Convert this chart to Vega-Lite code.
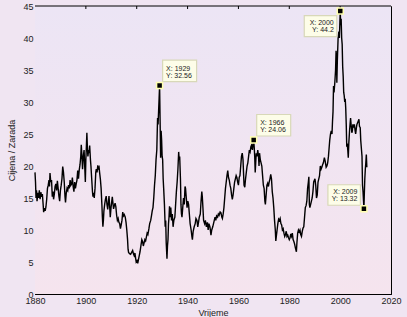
{
  "$schema": "https://vega.github.io/schema/vega-lite/v6.json",
  "width": 356,
  "height": 288,
  "autosize": "none",
  "padding": {"left": 35, "top": 6, "right": 16, "bottom": 23},
  "background": "#f0e5f2",
  "config": {
    "view": {"stroke": null},
    "font": "Liberation Sans",
    "axis": {
      "zindex": 1,
      "domainColor": "#000000",
      "domainWidth": 1,
      "tickColor": "#000000",
      "tickWidth": 1,
      "tickSize": -3,
      "grid": false,
      "labelFlush": false,
      "labelOverlap": false,
      "labelFont": "Liberation Sans",
      "labelFontSize": 9,
      "labelColor": "#222222",
      "labelPadding": 5,
      "titleFont": "Liberation Sans",
      "titleFontSize": 9,
      "titleFontWeight": "normal",
      "titleColor": "#222222"
    }
  },
  "datasets": {
    "cape": [
      {"t":1880.0,"v":19.0},{"t":1880.2,"v":17.5},{"t":1880.4,"v":15.0},{"t":1880.6,"v":16.2},{"t":1880.8,"v":14.5},
      {"t":1881.1,"v":15.8},{"t":1881.4,"v":15.0},{"t":1881.7,"v":16.2},{"t":1882.0,"v":14.8},{"t":1882.3,"v":15.9},
      {"t":1882.6,"v":15.2},{"t":1882.9,"v":15.6},{"t":1883.2,"v":14.0},{"t":1883.4,"v":12.8},{"t":1883.7,"v":13.4},
      {"t":1884.0,"v":13.0},{"t":1884.3,"v":13.6},{"t":1884.6,"v":14.8},{"t":1884.9,"v":16.5},{"t":1885.2,"v":17.0},
      {"t":1885.5,"v":17.8},{"t":1885.7,"v":16.8},{"t":1885.9,"v":18.9},{"t":1886.2,"v":17.5},{"t":1886.5,"v":17.8},
      {"t":1886.8,"v":15.2},{"t":1887.1,"v":16.0},{"t":1887.3,"v":14.8},{"t":1887.6,"v":15.6},{"t":1887.9,"v":16.8},
      {"t":1888.2,"v":17.2},{"t":1888.5,"v":16.2},{"t":1888.8,"v":17.7},{"t":1889.1,"v":16.5},{"t":1889.4,"v":15.3},
      {"t":1889.7,"v":14.5},{"t":1890.0,"v":16.2},{"t":1890.3,"v":17.0},{"t":1890.6,"v":18.0},{"t":1890.9,"v":19.9},
      {"t":1891.2,"v":19.0},{"t":1891.5,"v":17.5},{"t":1891.8,"v":15.2},{"t":1892.0,"v":14.3},{"t":1892.3,"v":15.8},
      {"t":1892.6,"v":16.5},{"t":1892.9,"v":16.2},{"t":1893.2,"v":17.0},{"t":1893.5,"v":16.5},{"t":1893.8,"v":17.8},
      {"t":1894.1,"v":17.0},{"t":1894.4,"v":17.2},{"t":1894.7,"v":18.2},{"t":1895.0,"v":16.8},{"t":1895.3,"v":16.0},
      {"t":1895.6,"v":17.5},{"t":1895.9,"v":16.5},{"t":1896.2,"v":17.2},{"t":1896.5,"v":17.8},{"t":1896.8,"v":19.3},
      {"t":1897.1,"v":18.0},{"t":1897.4,"v":19.4},{"t":1897.7,"v":20.2},{"t":1898.0,"v":21.5},{"t":1898.2,"v":23.3},
      {"t":1898.4,"v":22.0},{"t":1898.7,"v":19.5},{"t":1899.0,"v":21.5},{"t":1899.3,"v":22.5},{"t":1899.6,"v":19.5},
      {"t":1899.8,"v":17.5},{"t":1900.0,"v":21.0},{"t":1900.2,"v":23.0},{"t":1900.4,"v":25.2},{"t":1900.6,"v":23.0},
      {"t":1900.8,"v":21.5},{"t":1901.1,"v":22.5},{"t":1901.3,"v":22.0},{"t":1901.5,"v":23.2},{"t":1901.8,"v":21.0},
      {"t":1902.0,"v":20.0},{"t":1902.3,"v":18.0},{"t":1902.6,"v":16.0},{"t":1902.8,"v":15.2},{"t":1903.1,"v":15.8},
      {"t":1903.3,"v":15.0},{"t":1903.6,"v":16.5},{"t":1903.9,"v":19.0},{"t":1904.1,"v":19.5},{"t":1904.4,"v":19.0},
      {"t":1904.7,"v":20.1},{"t":1904.9,"v":19.6},{"t":1905.2,"v":19.8},{"t":1905.4,"v":19.0},{"t":1905.7,"v":18.0},
      {"t":1906.0,"v":16.5},{"t":1906.3,"v":14.0},{"t":1906.5,"v":12.0},{"t":1906.7,"v":10.5},{"t":1906.9,"v":11.5},
      {"t":1907.1,"v":13.0},{"t":1907.4,"v":14.0},{"t":1907.7,"v":14.8},{"t":1908.0,"v":15.3},{"t":1908.3,"v":14.0},
      {"t":1908.6,"v":13.2},{"t":1908.9,"v":14.5},{"t":1909.1,"v":15.3},{"t":1909.4,"v":13.5},{"t":1909.6,"v":12.0},
      {"t":1909.9,"v":13.5},{"t":1910.2,"v":14.5},{"t":1910.4,"v":15.2},{"t":1910.7,"v":14.0},{"t":1910.9,"v":13.3},
      {"t":1911.2,"v":13.8},{"t":1911.5,"v":14.2},{"t":1911.8,"v":13.6},{"t":1912.1,"v":12.3},{"t":1912.4,"v":11.5},
      {"t":1912.7,"v":11.8},{"t":1913.0,"v":11.2},{"t":1913.3,"v":11.0},{"t":1913.6,"v":10.2},{"t":1913.9,"v":10.8},
      {"t":1914.2,"v":11.5},{"t":1914.5,"v":12.8},{"t":1914.8,"v":12.2},{"t":1915.1,"v":12.4},{"t":1915.5,"v":12.0},
      {"t":1915.8,"v":11.2},{"t":1916.1,"v":10.0},{"t":1916.4,"v":8.5},{"t":1916.6,"v":7.0},{"t":1916.8,"v":6.5},
      {"t":1917.2,"v":6.3},{"t":1917.6,"v":6.2},{"t":1918.0,"v":6.5},{"t":1918.4,"v":6.8},{"t":1918.7,"v":6.3},
      {"t":1919.0,"v":6.0},{"t":1919.3,"v":6.4},{"t":1919.6,"v":5.5},{"t":1919.8,"v":5.0},{"t":1920.1,"v":5.2},
      {"t":1920.4,"v":4.8},{"t":1920.7,"v":5.4},{"t":1921.0,"v":6.0},{"t":1921.3,"v":6.6},{"t":1921.6,"v":7.4},
      {"t":1922.0,"v":8.5},{"t":1922.3,"v":8.2},{"t":1922.6,"v":7.5},{"t":1922.9,"v":8.0},{"t":1923.2,"v":8.5},
      {"t":1923.5,"v":8.3},{"t":1923.8,"v":8.9},{"t":1924.1,"v":9.5},{"t":1924.4,"v":9.3},{"t":1924.8,"v":10.2},
      {"t":1925.1,"v":11.0},{"t":1925.5,"v":11.5},{"t":1925.8,"v":12.2},{"t":1926.1,"v":13.0},{"t":1926.4,"v":13.5},
      {"t":1926.7,"v":15.0},{"t":1927.0,"v":17.0},{"t":1927.3,"v":18.5},{"t":1927.6,"v":21.0},{"t":1927.9,"v":22.5},
      {"t":1928.2,"v":27.5},{"t":1928.4,"v":26.5},{"t":1928.6,"v":28.5},{"t":1928.8,"v":30.5},{"t":1929.0,"v":32.56},
      {"t":1929.2,"v":27.0},{"t":1929.4,"v":21.3},{"t":1929.6,"v":25.5},{"t":1929.8,"v":24.0},{"t":1930.0,"v":21.5},
      {"t":1930.2,"v":21.0},{"t":1930.4,"v":18.0},{"t":1930.6,"v":16.5},{"t":1930.9,"v":14.0},{"t":1931.2,"v":10.5},
      {"t":1931.4,"v":11.5},{"t":1931.6,"v":8.0},{"t":1931.9,"v":5.5},{"t":1932.1,"v":7.5},{"t":1932.3,"v":8.5},
      {"t":1932.5,"v":11.0},{"t":1932.7,"v":12.0},{"t":1932.9,"v":13.7},{"t":1933.1,"v":12.0},{"t":1933.4,"v":13.5},
      {"t":1933.7,"v":11.5},{"t":1934.0,"v":12.5},{"t":1934.3,"v":10.5},{"t":1934.6,"v":11.5},{"t":1935.0,"v":12.0},
      {"t":1935.3,"v":14.0},{"t":1935.6,"v":16.0},{"t":1935.9,"v":17.5},{"t":1936.2,"v":19.5},{"t":1936.5,"v":22.2},
      {"t":1936.7,"v":21.0},{"t":1936.9,"v":21.5},{"t":1937.2,"v":18.0},{"t":1937.4,"v":14.0},{"t":1937.6,"v":12.5},
      {"t":1937.8,"v":12.0},{"t":1938.1,"v":13.5},{"t":1938.4,"v":15.0},{"t":1938.7,"v":14.0},{"t":1939.0,"v":16.8},
      {"t":1939.2,"v":16.5},{"t":1939.5,"v":15.0},{"t":1939.8,"v":13.5},{"t":1940.1,"v":14.5},{"t":1940.4,"v":14.0},
      {"t":1940.7,"v":12.5},{"t":1941.0,"v":11.0},{"t":1941.4,"v":10.0},{"t":1941.7,"v":9.0},{"t":1941.9,"v":8.5},
      {"t":1942.2,"v":9.8},{"t":1942.6,"v":10.5},{"t":1943.0,"v":11.0},{"t":1943.3,"v":11.8},{"t":1943.7,"v":11.5},
      {"t":1944.0,"v":10.5},{"t":1944.3,"v":11.2},{"t":1944.6,"v":12.0},{"t":1945.0,"v":12.5},{"t":1945.3,"v":14.5},
      {"t":1945.6,"v":16.0},{"t":1945.8,"v":15.2},{"t":1946.1,"v":13.0},{"t":1946.3,"v":11.5},{"t":1946.7,"v":11.0},
      {"t":1947.0,"v":11.5},{"t":1947.4,"v":10.5},{"t":1947.8,"v":11.2},{"t":1948.1,"v":10.0},{"t":1948.4,"v":11.0},
      {"t":1948.8,"v":10.5},{"t":1949.2,"v":9.2},{"t":1949.5,"v":10.0},{"t":1949.9,"v":10.5},{"t":1950.2,"v":11.0},
      {"t":1950.5,"v":11.5},{"t":1950.8,"v":12.0},{"t":1951.1,"v":11.5},{"t":1951.4,"v":12.2},{"t":1951.8,"v":12.0},
      {"t":1952.1,"v":12.5},{"t":1952.4,"v":12.3},{"t":1952.8,"v":12.8},{"t":1953.1,"v":12.7},{"t":1953.5,"v":12.0},
      {"t":1953.7,"v":11.8},{"t":1954.0,"v":12.5},{"t":1954.3,"v":13.5},{"t":1954.6,"v":15.0},{"t":1954.9,"v":16.5},
      {"t":1955.2,"v":17.5},{"t":1955.5,"v":18.5},{"t":1955.8,"v":19.3},{"t":1956.1,"v":18.2},{"t":1956.4,"v":17.8},
      {"t":1956.7,"v":17.0},{"t":1957.0,"v":16.5},{"t":1957.3,"v":15.5},{"t":1957.6,"v":14.8},{"t":1957.9,"v":15.5},
      {"t":1958.2,"v":16.5},{"t":1958.5,"v":17.5},{"t":1958.8,"v":18.0},{"t":1959.1,"v":18.5},{"t":1959.4,"v":18.2},
      {"t":1959.7,"v":17.5},{"t":1960.0,"v":17.0},{"t":1960.3,"v":18.2},{"t":1960.6,"v":18.5},{"t":1960.9,"v":20.0},
      {"t":1961.2,"v":21.5},{"t":1961.5,"v":22.0},{"t":1961.8,"v":21.0},{"t":1962.0,"v":19.0},{"t":1962.2,"v":17.0},
      {"t":1962.5,"v":16.7},{"t":1962.8,"v":18.0},{"t":1963.1,"v":19.0},{"t":1963.4,"v":20.0},{"t":1963.7,"v":20.5},
      {"t":1964.0,"v":21.5},{"t":1964.3,"v":22.5},{"t":1964.6,"v":22.2},{"t":1964.9,"v":23.0},{"t":1965.2,"v":23.3},
      {"t":1965.5,"v":22.5},{"t":1965.8,"v":23.5},{"t":1966.0,"v":24.06},{"t":1966.2,"v":23.0},{"t":1966.4,"v":21.5},
      {"t":1966.6,"v":19.0},{"t":1966.8,"v":20.5},{"t":1967.0,"v":22.0},{"t":1967.3,"v":21.5},{"t":1967.6,"v":22.5},
      {"t":1967.9,"v":21.5},{"t":1968.1,"v":20.0},{"t":1968.3,"v":22.0},{"t":1968.6,"v":21.0},{"t":1968.9,"v":20.5},
      {"t":1969.2,"v":20.0},{"t":1969.5,"v":18.5},{"t":1969.8,"v":17.0},{"t":1970.1,"v":16.5},{"t":1970.4,"v":14.5},
      {"t":1970.6,"v":14.0},{"t":1970.9,"v":15.5},{"t":1971.2,"v":17.0},{"t":1971.5,"v":17.3},{"t":1971.8,"v":16.8},
      {"t":1972.1,"v":17.5},{"t":1972.4,"v":18.0},{"t":1972.7,"v":18.7},{"t":1973.0,"v":18.0},{"t":1973.3,"v":16.0},
      {"t":1973.6,"v":15.0},{"t":1973.9,"v":13.5},{"t":1974.2,"v":11.5},{"t":1974.5,"v":10.0},{"t":1974.7,"v":8.3},
      {"t":1974.9,"v":9.0},{"t":1975.2,"v":10.0},{"t":1975.5,"v":11.0},{"t":1975.8,"v":11.7},{"t":1976.1,"v":11.5},
      {"t":1976.4,"v":11.8},{"t":1976.7,"v":11.0},{"t":1977.0,"v":10.8},{"t":1977.3,"v":10.0},{"t":1977.6,"v":10.2},
      {"t":1977.9,"v":9.5},{"t":1978.2,"v":9.0},{"t":1978.5,"v":9.3},{"t":1978.8,"v":9.8},{"t":1979.1,"v":9.0},
      {"t":1979.4,"v":9.2},{"t":1979.7,"v":8.8},{"t":1980.0,"v":8.5},{"t":1980.3,"v":8.8},{"t":1980.6,"v":9.4},
      {"t":1980.9,"v":9.0},{"t":1981.2,"v":9.5},{"t":1981.5,"v":8.5},{"t":1981.8,"v":8.2},{"t":1982.1,"v":7.8},
      {"t":1982.4,"v":7.2},{"t":1982.6,"v":6.9},{"t":1982.8,"v":6.6},{"t":1983.0,"v":8.0},{"t":1983.3,"v":9.5},
      {"t":1983.6,"v":10.0},{"t":1983.9,"v":9.7},{"t":1984.2,"v":10.0},{"t":1984.5,"v":9.3},{"t":1984.8,"v":9.0},
      {"t":1985.1,"v":9.8},{"t":1985.4,"v":10.3},{"t":1985.7,"v":10.5},{"t":1986.0,"v":12.0},{"t":1986.3,"v":13.5},
      {"t":1986.6,"v":13.8},{"t":1986.9,"v":14.5},{"t":1987.2,"v":16.5},{"t":1987.5,"v":17.5},{"t":1987.7,"v":18.3},
      {"t":1987.9,"v":14.0},{"t":1988.1,"v":13.5},{"t":1988.4,"v":14.0},{"t":1988.7,"v":14.5},{"t":1989.0,"v":15.0},
      {"t":1989.3,"v":16.0},{"t":1989.6,"v":17.5},{"t":1989.9,"v":17.8},{"t":1990.1,"v":18.0},{"t":1990.4,"v":17.0},
      {"t":1990.7,"v":15.0},{"t":1991.0,"v":15.5},{"t":1991.3,"v":17.5},{"t":1991.6,"v":18.0},{"t":1991.9,"v":18.5},
      {"t":1992.2,"v":20.0},{"t":1992.5,"v":19.5},{"t":1992.8,"v":19.8},{"t":1993.1,"v":20.2},{"t":1993.4,"v":20.5},
      {"t":1993.8,"v":21.3},{"t":1994.1,"v":20.8},{"t":1994.5,"v":19.8},{"t":1994.8,"v":20.0},{"t":1995.1,"v":20.5},
      {"t":1995.4,"v":21.5},{"t":1995.7,"v":23.0},{"t":1995.9,"v":24.0},{"t":1996.2,"v":25.0},{"t":1996.5,"v":25.5},
      {"t":1996.8,"v":25.0},{"t":1997.0,"v":27.0},{"t":1997.2,"v":28.5},{"t":1997.4,"v":32.5},{"t":1997.6,"v":31.5},
      {"t":1997.9,"v":33.0},{"t":1998.2,"v":35.0},{"t":1998.4,"v":38.0},{"t":1998.6,"v":36.0},{"t":1998.7,"v":33.0},
      {"t":1998.9,"v":36.5},{"t":1999.2,"v":40.0},{"t":1999.5,"v":41.0},{"t":1999.7,"v":40.0},{"t":1999.9,"v":42.5},
      {"t":2000.05,"v":44.2},{"t":2000.2,"v":42.0},{"t":2000.4,"v":43.0},{"t":2000.6,"v":40.0},{"t":2000.8,"v":39.0},
      {"t":2001.0,"v":35.5},{"t":2001.2,"v":34.0},{"t":2001.4,"v":31.5},{"t":2001.6,"v":31.0},{"t":2001.8,"v":30.0},
      {"t":2002.0,"v":30.5},{"t":2002.2,"v":29.0},{"t":2002.4,"v":26.5},{"t":2002.6,"v":23.0},{"t":2002.8,"v":23.5},
      {"t":2003.0,"v":22.5},{"t":2003.2,"v":21.3},{"t":2003.4,"v":23.5},{"t":2003.7,"v":25.5},{"t":2003.9,"v":26.5},
      {"t":2004.1,"v":27.5},{"t":2004.3,"v":26.5},{"t":2004.6,"v":25.2},{"t":2004.8,"v":25.5},{"t":2005.0,"v":26.5},
      {"t":2005.3,"v":26.2},{"t":2005.6,"v":26.5},{"t":2005.9,"v":25.5},{"t":2006.1,"v":25.0},{"t":2006.4,"v":26.0},
      {"t":2006.6,"v":26.5},{"t":2006.9,"v":26.8},{"t":2007.1,"v":27.0},{"t":2007.4,"v":27.3},{"t":2007.6,"v":26.2},
      {"t":2007.9,"v":26.0},{"t":2008.1,"v":24.0},{"t":2008.4,"v":22.5},{"t":2008.6,"v":21.5},{"t":2008.8,"v":17.0},
      {"t":2009.0,"v":16.0},{"t":2009.2,"v":14.5},{"t":2009.35,"v":13.32},{"t":2009.5,"v":15.5},{"t":2009.7,"v":18.0},
      {"t":2009.9,"v":19.5},{"t":2010.1,"v":20.5},{"t":2010.3,"v":21.8},{"t":2010.5,"v":19.8}
    ],
    "tips": [
      {"t":1929.0,"v":32.56,"label":"X: 1929\nY: 32.56","pos":"ur"},
      {"t":1966.0,"v":24.06,"label":"X: 1966\nY: 24.06","pos":"ur"},
      {"t":2000.05,"v":44.2,"label":"X: 2000\nY: 44.2","pos":"ll"},
      {"t":2009.35,"v":13.32,"label":"X: 2009\nY: 13.32","pos":"ul"}
    ],
    "topticks": [{"yr":1900},{"yr":1920},{"yr":1940},{"yr":1960},{"yr":1980},{"yr":2000}]
  },
  "layer": [
    {
      "data": {"values": [{}]},
      "mark": {
        "type": "rect",
        "fill": {
          "gradient": "linear", "x1": 0, "y1": 0, "x2": 0, "y2": 1,
          "stops": [{"offset": 0, "color": "#ece5f5"}, {"offset": 1, "color": "#f5e4ee"}]
        }
      },
      "encoding": {
        "x": {"datum": 1880, "type": "quantitative", "scale": {"domain": [1880, 2020], "nice": false}, "axis": null},
        "x2": {"datum": 2020},
        "y": {"datum": 0, "type": "quantitative", "scale": {"domain": [0, 45], "nice": false}, "axis": null},
        "y2": {"datum": 45}
      }
    },
    {
      "data": {"values": [{}]},
      "mark": {"type": "rule", "color": "#000000", "strokeWidth": 1},
      "encoding": {
        "x": {"datum": 1880, "type": "quantitative", "axis": null},
        "x2": {"datum": 2020},
        "y": {"datum": 45, "type": "quantitative", "axis": null}
      }
    },
    {
      "data": {"name": "topticks"},
      "mark": {"type": "tick", "orient": "vertical", "size": 3, "thickness": 1, "color": "#000000", "yOffset": 1.5, "opacity": 1},
      "encoding": {
        "x": {"field": "yr", "type": "quantitative", "axis": null},
        "y": {"datum": 45, "type": "quantitative", "axis": null}
      }
    },
    {
      "data": {"name": "cape"},
      "mark": {"type": "line", "color": "#000000", "strokeWidth": 1.4},
      "encoding": {
        "x": {"field": "t", "type": "quantitative", "scale": {"domain": [1880, 2020], "nice": false},
              "axis": {"orient": "bottom", "title": "Vrijeme", "format": "d", "titlePadding": 3, "values": [1880,1900,1920,1940,1960,1980,2000,2020]}},
        "y": {"field": "v", "type": "quantitative", "scale": {"domain": [0, 45], "nice": false},
              "axis": {"orient": "left", "title": "Cijena / Zarada", "titlePadding": 6, "values": [0,5,10,15,20,25,30,35,40,45]}}
      }
    },
    {
      "data": {"name": "tips"},
      "transform": [{"filter": "datum.pos == 'ur'"}],
      "mark": {"type": "point", "filled": true, "opacity": 1, "size": 4, "shape": "M3,-25.5L37,-25.5L37,-4L3,-4Z", "fill": "#fdfde8", "stroke": "#d8d8b8", "strokeWidth": 1.2},
      "encoding": {"x": {"field": "t", "type": "quantitative", "axis": null}, "y": {"field": "v", "type": "quantitative", "axis": null}}
    },
    {
      "data": {"name": "tips"},
      "transform": [{"filter": "datum.pos == 'll'"}],
      "mark": {"type": "point", "filled": true, "opacity": 1, "size": 4, "shape": "M-36,4.5L-3.5,4.5L-3.5,25.5L-36,25.5Z", "fill": "#fdfde8", "stroke": "#d8d8b8", "strokeWidth": 1.2},
      "encoding": {"x": {"field": "t", "type": "quantitative", "axis": null}, "y": {"field": "v", "type": "quantitative", "axis": null}}
    },
    {
      "data": {"name": "tips"},
      "transform": [{"filter": "datum.pos == 'ul'"}],
      "mark": {"type": "point", "filled": true, "opacity": 1, "size": 4, "shape": "M-36,-24L-3.5,-24L-3.5,-3.5L-36,-3.5Z", "fill": "#fdfde8", "stroke": "#d8d8b8", "strokeWidth": 1.2},
      "encoding": {"x": {"field": "t", "type": "quantitative", "axis": null}, "y": {"field": "v", "type": "quantitative", "axis": null}}
    },
    {
      "data": {"name": "tips"},
      "transform": [{"filter": "datum.pos == 'ur'"}],
      "mark": {"type": "text", "align": "left", "baseline": "top", "dx": 6.5, "dy": -21, "fontSize": 7, "lineHeight": 7, "lineBreak": "\n", "color": "#222222", "font": "Liberation Sans"},
      "encoding": {"x": {"field": "t", "type": "quantitative", "axis": null}, "y": {"field": "v", "type": "quantitative", "axis": null}, "text": {"field": "label"}}
    },
    {
      "data": {"name": "tips"},
      "transform": [{"filter": "datum.pos == 'll'"}],
      "mark": {"type": "text", "align": "right", "baseline": "top", "dx": -6.5, "dy": 7.5, "fontSize": 7, "lineHeight": 7, "lineBreak": "\n", "color": "#222222", "font": "Liberation Sans"},
      "encoding": {"x": {"field": "t", "type": "quantitative", "axis": null}, "y": {"field": "v", "type": "quantitative", "axis": null}, "text": {"field": "label"}}
    },
    {
      "data": {"name": "tips"},
      "transform": [{"filter": "datum.pos == 'ul'"}],
      "mark": {"type": "text", "align": "right", "baseline": "top", "dx": -6.5, "dy": -21, "fontSize": 7, "lineHeight": 7, "lineBreak": "\n", "color": "#222222", "font": "Liberation Sans"},
      "encoding": {"x": {"field": "t", "type": "quantitative", "axis": null}, "y": {"field": "v", "type": "quantitative", "axis": null}, "text": {"field": "label"}}
    },
    {
      "data": {"name": "tips"},
      "mark": {"type": "point", "shape": "square", "filled": true, "opacity": 1, "size": 36, "fill": "#000000", "stroke": "#ffffb0", "strokeWidth": 1.5},
      "encoding": {
        "x": {"field": "t", "type": "quantitative", "scale": {"domain": [1880, 2020], "nice": false}, "axis": null},
        "y": {"field": "v", "type": "quantitative", "scale": {"domain": [0, 45], "nice": false},
              "axis": {"orient": "right", "labels": false, "title": null, "values": [0,5,10,15,20,25,30,35,40,45]}}
      }
    }
  ],
  "resolve": {"axis": {"x": "independent", "y": "independent"}}
}
